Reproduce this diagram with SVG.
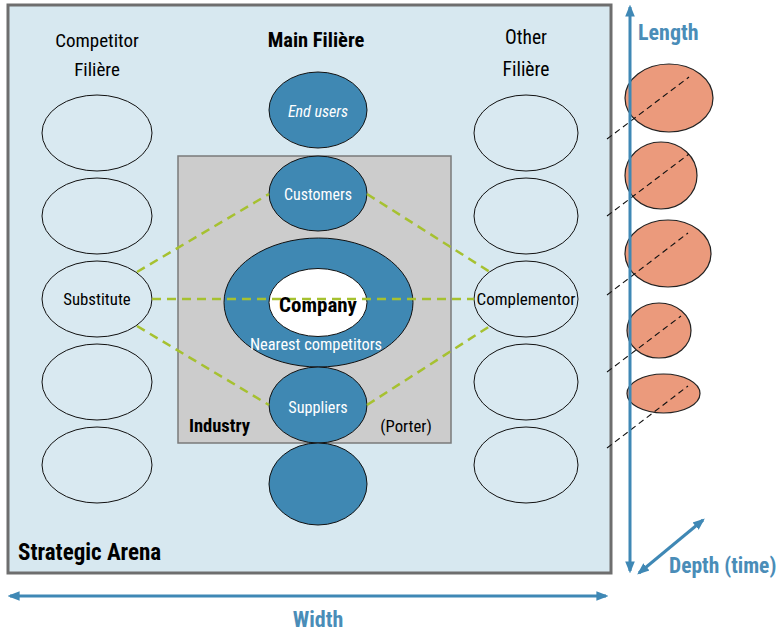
<svg xmlns="http://www.w3.org/2000/svg" width="779" height="633" viewBox="0 0 779 633">
<style>
text{font-family:"Liberation Sans Narrow","Roboto Condensed","DejaVu Sans Condensed","Liberation Sans",sans-serif;text-anchor:middle}
.b{font-weight:bold}
.w{fill:#ffffff}
.ax{fill:#4a8db8;font-weight:bold;font-size:22px}
.blue{fill:#3f88b3;stroke:#111;stroke-width:1}
.wh{fill:#d9e9f1;stroke:#111;stroke-width:1}
.sal{fill:#eb9a7c;stroke:#222;stroke-width:1.2}
.g{stroke:#a6c130;stroke-width:2.5;stroke-dasharray:9 6;fill:none}
.k{stroke:#111;stroke-width:1.1;stroke-dasharray:6 4;fill:none}
.arr{stroke:#3f88b5;stroke-width:3;fill:none}
</style>
<defs>
<marker id="ah" viewBox="0 0 10 10" refX="8" refY="5" markerWidth="4" markerHeight="4" orient="auto-start-reverse" markerUnits="strokeWidth">
<path d="M0,1 L10,5 L0,9 z" fill="#3f88b5"/>
</marker>
</defs>
<g id="arena">
<rect x="8" y="5" width="603" height="568" fill="#d7e8f0" stroke="#6e6e6e" stroke-width="3"/>
<text x="18" y="560" class="b" font-size="23" style="text-anchor:start">Strategic Arena</text>
</g>
<g id="industry">
<rect x="178" y="156" width="273" height="287" fill="#cccccc" stroke="#7a7a7a" stroke-width="1.5"/>
<text x="189" y="432" class="b" font-size="18.5" style="text-anchor:start">Industry</text>
<text x="406" y="432" font-size="16.7">(Porter)</text>
</g>
<g id="labels">
<text x="97" y="47" font-size="19">Competitor</text>
<text x="97" y="76" font-size="19">Filière</text>
<text x="316" y="47" class="b" font-size="20.5">Main Filière</text>
<text x="526" y="44" font-size="19.5">Other</text>
<text x="526" y="76" font-size="19.5">Filière</text>
</g>
<g id="left-filiere">
<ellipse cx="97" cy="133" rx="55" ry="38" class="wh"/>
<ellipse cx="97" cy="216" rx="55" ry="38" class="wh"/>
<ellipse cx="97" cy="382" rx="55" ry="38" class="wh"/>
<ellipse cx="97" cy="465" rx="55" ry="38" class="wh"/>
</g>
<g id="substitute">
<ellipse cx="97" cy="299" rx="55" ry="38" class="wh"/>
<text x="97" y="305" font-size="16.8">Substitute</text>
</g>
<g id="right-filiere">
<ellipse cx="526" cy="133" rx="52" ry="38" class="wh"/>
<ellipse cx="526" cy="216" rx="52" ry="38" class="wh"/>
<ellipse cx="526" cy="382" rx="52" ry="38" class="wh"/>
<ellipse cx="526" cy="465" rx="52" ry="38" class="wh"/>
</g>
<g id="complementor">
<ellipse cx="526" cy="299" rx="52" ry="38" class="wh"/>
<text x="526" y="305" font-size="17">Complementor</text>
</g>
<g id="end-users">
<ellipse cx="318" cy="110" rx="49" ry="38" class="blue"/>
<text x="318" y="117" class="w" font-size="16" font-style="italic">End users</text>
</g>
<g id="customers">
<ellipse cx="318" cy="193.5" rx="49" ry="37.5" class="blue"/>
<text x="318" y="200" class="w" font-size="15.9">Customers</text>
</g>
<g id="company">
<ellipse cx="318.5" cy="302.5" rx="94.5" ry="64.5" class="blue"/>
<ellipse cx="318" cy="302.5" rx="49" ry="34" fill="#ffffff" stroke="#111" stroke-width="1"/>
</g>
<g id="suppliers">
<ellipse cx="318" cy="405" rx="49" ry="38" class="blue"/>
<text x="318" y="413" class="w" font-size="16.2">Suppliers</text>
</g>
<g id="bottom-node">
<ellipse cx="318" cy="484" rx="49" ry="41" class="blue"/>
</g>
<g id="connectors">
<line x1="152" y1="299" x2="474" y2="299" class="g"/>
<line x1="137" y1="272" x2="269" y2="194" class="g"/>
<line x1="367" y1="194" x2="490" y2="272" class="g"/>
<line x1="137" y1="326" x2="269" y2="405" class="g"/>
<line x1="367" y1="405" x2="490" y2="326" class="g"/>
</g>
<g id="company-text">
<text x="318" y="312" class="b" font-size="21">Company</text>
<text x="316" y="350" class="w" font-size="16.4">Nearest competitors</text>
</g>
<g id="depth-items">
<ellipse cx="669" cy="98" rx="44" ry="34" class="sal"/>
<ellipse cx="661" cy="175.5" rx="36" ry="33.5" class="sal"/>
<ellipse cx="668" cy="253.5" rx="43" ry="33.5" class="sal"/>
<ellipse cx="659" cy="330.5" rx="32" ry="27.5" class="sal"/>
<ellipse cx="663.5" cy="393.5" rx="36.5" ry="19.5" class="sal"/>
</g>
<g id="projections">
<line x1="607" y1="139" x2="689" y2="77" class="k"/>
<line x1="607" y1="216" x2="689" y2="154" class="k"/>
<line x1="607" y1="295" x2="688" y2="233" class="k"/>
<line x1="607" y1="372" x2="681" y2="316" class="k"/>
<line x1="607" y1="448" x2="688" y2="386" class="k"/>
</g>
<g id="axes">
<line x1="630" y1="571" x2="630" y2="7" class="arr" marker-start="url(#ah)" marker-end="url(#ah)"/>
<line x1="10" y1="596" x2="606" y2="596" class="arr" marker-start="url(#ah)" marker-end="url(#ah)"/>
<line x1="639" y1="573" x2="703" y2="520" class="arr" marker-start="url(#ah)" marker-end="url(#ah)"/>
<text x="638" y="40" class="ax" style="text-anchor:start">Length</text>
<text x="318" y="627" class="ax">Width</text>
<text x="669" y="573" class="ax" style="text-anchor:start;font-size:21.5px">Depth (time)</text>
</g>
</svg>
